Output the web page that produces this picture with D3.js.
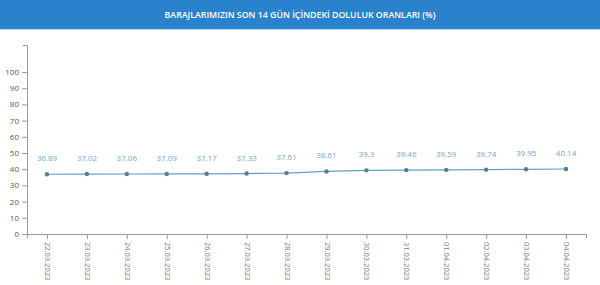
<!DOCTYPE html>
<html>
<head>
<meta charset="utf-8">
<script src="https://cdn.jsdelivr.net/npm/d3@7"></script>
<style>
  body { margin: 0; background: #fff; font-family: "Open Sans", "Noto Sans", sans-serif; }
  #chart { display: block; }
</style>
</head>
<body>
<svg id="chart"></svg>
<script>
const width = 600;
const height = 285;

const dates = ['22.03.2023', '23.03.2023', '24.03.2023', '25.03.2023', '26.03.2023', '27.03.2023', '28.03.2023',
    '29.03.2023', '30.03.2023', '31.03.2023', '01.04.2023', '02.04.2023', '03.04.2023', '04.04.2023'];
const levels = [36.89, 37.02, 37.06, 37.09, 37.17, 37.33, 37.61, 38.61, 39.3, 39.46, 39.59, 39.74, 39.95, 40.14];
const yTicks = [0, 10, 20, 30, 40, 50, 60, 70, 80, 90, 100];
const title = 'BARAJLARIMIZIN SON 14 GÜN İÇİNDEKİ DOLULUK ORANLARI (%)';

const svg = d3.select('#chart')
    .attr('width', width)
    .attr('height', height);

// title bar
svg.append('rect')
    .attr('width', width)
    .attr('height', 29)
    .attr('fill', '#2a82cc');
svg.append('rect')
    .attr('y', 29)
    .attr('width', width)
    .attr('height', 1)
    .attr('fill', '#b9d9f0');
svg.append('text')
    .attr('x', width / 2)
    .attr('y', 18)
    .attr('text-anchor', 'middle')
    .attr('fill', '#fff')
    .style('font-size', '8.8px')
    .style('font-weight', 600)
    .text(title);

const x = d3.scalePoint()
    .domain(dates)
    .range([27, 586])
    .padding(0.5);

const y = d3.scaleLinear()
    .domain([0, 116.7])
    .range([234, 45]);

const axisColor = '#9a9a9a';

const yAxis = svg.append('g')
    .attr('transform', 'translate(27,0)')
    .call(d3.axisLeft(y).tickValues(yTicks).tickSize(5).tickSizeOuter(4));
yAxis.selectAll('text')
    .attr('fill', '#555')
    .style('font-size', '8px')
    .style('font-family', '"Open Sans", sans-serif');

const xAxis = svg.append('g')
    .attr('transform', 'translate(0,234)')
    .call(d3.axisBottom(x).tickSize(5).tickSizeOuter(4));
xAxis.selectAll('text')
    .attr('fill', '#777')
    .attr('transform', 'rotate(90)')
    .attr('text-anchor', 'start')
    .attr('x', 8)
    .attr('y', 0)
    .attr('dy', '0.32em')
    .style('font-size', '7.5px')
    .style('font-family', '"Open Sans", sans-serif');

svg.selectAll('.domain, .tick line').attr('stroke', axisColor);

const line = d3.line()
    .x((d, i) => x(dates[i]))
    .y(d => y(d));

svg.append('path')
    .datum(levels)
    .attr('d', line)
    .attr('fill', 'none')
    .attr('stroke', '#62a0c4')
    .attr('stroke-width', 1.2);

svg.selectAll('circle.pt')
    .data(levels)
    .join('circle')
    .attr('class', 'pt')
    .attr('cx', (d, i) => x(dates[i]))
    .attr('cy', d => y(d))
    .attr('r', 2.2)
    .attr('fill', '#4f7f9c');

svg.selectAll('text.val')
    .data(levels)
    .join('text')
    .attr('class', 'val')
    .attr('x', (d, i) => x(dates[i]))
    .attr('y', d => y(d) - 13)
    .attr('text-anchor', 'middle')
    .attr('fill', '#74a4cc')
    .style('font-size', '8px')
    .text(d => d);
</script>
</body>
</html>
